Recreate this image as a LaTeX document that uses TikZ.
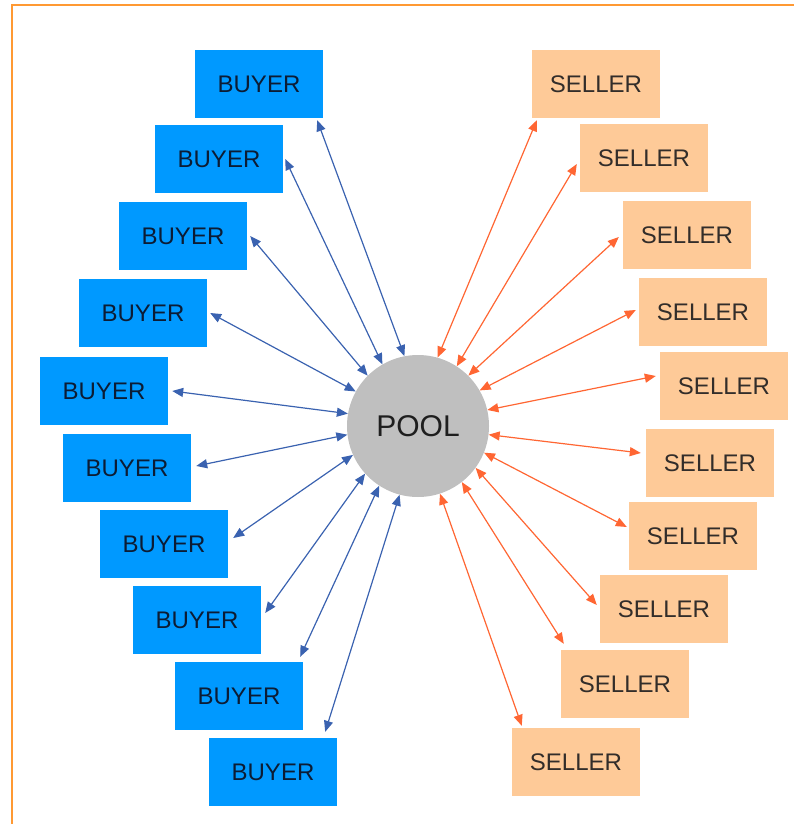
\documentclass[tikz,border=0pt]{standalone}
\usepackage{fontspec}
\setmainfont{Liberation Sans}
\usetikzlibrary{arrows.meta}

\definecolor{buyerblue}{RGB}{0,153,255}
\definecolor{sellerpeach}{RGB}{254,202,152}
\definecolor{poolgray}{RGB}{191,191,191}
\definecolor{linkblue}{RGB}{58,98,176}
\definecolor{linkorange}{RGB}{255,102,51}
\definecolor{frameorange}{RGB}{255,153,51}

\begin{document}
\begin{tikzpicture}[x=1pt,y=1pt]
\tikzstyle{every node}+=[inner sep=0pt]
\tikzstyle{buyer}=[fill=buyerblue,minimum width=128,minimum height=68,text={rgb,255:red,12;green,28;blue,52},font=\fontsize{24}{24}\selectfont]
\tikzstyle{seller}=[fill=sellerpeach,minimum width=128,minimum height=68,text={rgb,255:red,50;green,45;blue,42},font=\fontsize{24}{24}\selectfont]
\tikzstyle{buylink}=[linkblue,line width=1.2,>={Triangle[length=11pt,width=9pt]},<->]
\tikzstyle{selllink}=[linkorange,line width=1.2,>={Triangle[length=11pt,width=9pt]},<->]
\useasboundingbox (0,0) rectangle (794,-824);
\draw [frameorange,line width=2] (12,-824) -- (12,-5) -- (794,-5);
\node [circle,fill=poolgray,minimum size=142,font=\fontsize{30}{30}\selectfont,text={rgb,255:red,30;green,30;blue,30}] (pool) at (418,-426) {POOL};
\node [buyer] (b1) at (259,-84) {BUYER};
\node [buyer] (b2) at (219,-159) {BUYER};
\node [buyer] (b3) at (183,-236) {BUYER};
\node [buyer] (b4) at (143,-313) {BUYER};
\node [buyer] (b5) at (104,-391) {BUYER};
\node [buyer] (b6) at (127,-468) {BUYER};
\node [buyer] (b7) at (164,-544) {BUYER};
\node [buyer] (b8) at (197,-620) {BUYER};
\node [buyer] (b9) at (239,-696) {BUYER};
\node [buyer] (b10) at (273,-772) {BUYER};
\node [seller] (s1) at (596,-84) {SELLER};
\node [seller] (s2) at (644,-158) {SELLER};
\node [seller] (s3) at (687,-235) {SELLER};
\node [seller] (s4) at (703,-312) {SELLER};
\node [seller] (s5) at (724,-386) {SELLER};
\node [seller] (s6) at (710,-463) {SELLER};
\node [seller] (s7) at (693,-536) {SELLER};
\node [seller] (s8) at (664,-609) {SELLER};
\node [seller] (s9) at (625,-684) {SELLER};
\node [seller] (s10) at (576,-762) {SELLER};
\draw [buylink] (pool.101) -- ([xshift=-6,yshift=-2]b1.south east);
\draw [buylink] (pool.120) -- ([xshift=2]b2.east);
\draw [buylink] (pool.135) -- ([xshift=3]b3.east);
\draw [buylink] (pool.151) -- ([xshift=3]b4.east);
\draw [buylink] (pool.170) -- ([xshift=4]b5.east);
\draw [buylink] (pool.187) -- ([xshift=5,yshift=2]b6.east);
\draw [buylink] (pool.204) -- ([xshift=5,yshift=6]b7.east);
\draw [buylink] (pool.222) -- ([xshift=4,yshift=7]b8.east);
\draw [buylink] (pool.237) -- ([xshift=-3,yshift=5]b9.north east);
\draw [buylink] (pool.255) -- ([xshift=-12,yshift=6]b10.north east);
\draw [selllink] (pool.74) -- ([xshift=5,yshift=-2]s1.south west);
\draw [selllink] (pool.57) -- ([xshift=-3,yshift=-6]s2.west);
\draw [selllink] (pool.45) -- ([xshift=-4,yshift=-2]s3.west);
\draw [selllink] (pool.30) -- ([xshift=-3,yshift=2]s4.west);
\draw [selllink] (pool.13) -- ([xshift=-4,yshift=10]s5.west);
\draw [selllink] (pool.-7) -- ([xshift=-5,yshift=10]s6.west);
\draw [selllink] (pool.-22) -- ([xshift=-2,yshift=9]s7.west);
\draw [selllink] (pool.-36) -- ([xshift=-3,yshift=4]s8.west);
\draw [selllink] (pool.-52) -- ([xshift=3,yshift=6]s9.north west);
\draw [selllink] (pool.-72) -- ([xshift=10,yshift=2]s10.north west);
\end{tikzpicture}
\end{document}
